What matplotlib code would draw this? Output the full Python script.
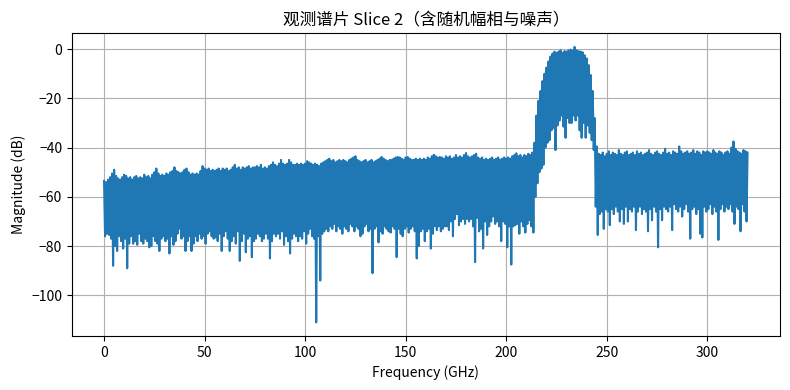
import matplotlib
matplotlib.use("Agg")
import matplotlib.pyplot as plt
import numpy as np

plt.rcParams["font.family"] = ["Noto Sans CJK SC", "DejaVu Sans"]
plt.rcParams["axes.unicode_minus"] = True

# 上包络（整数 GHz 处的峰值，dB）
upper = [
    -53.5, -54, -53, -52, -50.5, -49, -51.5, -52.5, -53, -52,
    -51, -51.5, -52.5, -52, -53, -52, -51.5, -52.5, -52, -52.5,
    -51, -52, -51.5, -52.5, -51, -50, -48.5, -50.5, -51.5, -51,
    -51.5, -50.5, -51, -50, -49.5, -48, -49.5, -50, -50.5, -50,
    -49, -48.5, -50, -51, -50.5, -51, -50.5, -51, -49.5, -47.5,
    -48.5, -49, -48.5, -49.5, -49, -49.5, -49, -48.5, -49.5, -48.5,
    -49, -48.5, -49.5, -49, -48, -47, -48.5, -48, -49, -48,
    -48.5, -48, -47.5, -48.5, -48, -48, -47.5, -48, -47, -48.5,
    -48, -48.5, -47.5, -47, -46, -47, -47.5, -46.5, -45, -46.5,
    -47, -46.5, -45, -46, -47, -47, -46.5, -47, -46.5, -47,
    -46.5, -45.5, -46, -46.5, -47, -46.5, -47, -47.5, -46.5, -46,
    -45.5, -45, -44.5, -45.5, -45, -46, -45.5, -45, -45.5, -45,
    -45.5, -46, -45, -44.5, -44, -43.5, -45, -45.5, -46, -45.5,
    -45, -46, -45.5, -45, -46, -45.5, -45, -44.5, -43.8, -44.5,
    -45, -45.5, -45, -45, -44.5, -44, -43.8, -44, -44.5, -45,
    -44, -43.8, -44.5, -45, -45, -44.5, -45, -44.5, -45, -44.5,
    -45, -44, -44.5, -43.5, -42.9, -43.5, -44, -43.8, -44, -44.5,
    -43.5, -44, -43.5, -44.5, -44, -43, -44, -43.5, -44, -43,
    -42.2, -43.5, -44, -43.5, -43, -42.5, -44, -44.5, -44, -45,
    -44.5, -45, -44.5, -44, -45, -44.5, -44, -45, -44.5, -44,
    -44.5, -44, -44.5, -43.5, -43, -42.3, -43.5, -43, -44, -43,
    -43.5, -42.5, -43, -42, -38, -27, -21, -17, -13, -10,
    -7.5, -5, -3, -1.8, -1, -1.5, -1, -0.5, -1.5, -0.8,
    -1, -0.5, -0.2, -0.6, 0.9, -0.5, -0.8, -1, -1.3, -2.5,
    -3.8, -6.5, -10.5, -17, -28, -39.5, -42.5, -43, -42, -43.5,
    -42.5, -41.5, -43, -42, -42.5, -43, -41, -42.5, -43, -42,
    -41.5, -43, -42.5, -42, -43, -41.5, -42.5, -42, -43, -42.5,
    -42, -41, -42.5, -43, -42, -41.5, -42.5, -43, -42, -40.5,
    -42.5, -42, -43, -41.5, -42, -42.5, -39.5, -41.5, -42.5, -42,
    -41.5, -42.5, -42, -41, -42.5, -41.5, -42, -43, -41.5, -42,
    -41.5, -42, -42.5, -41, -42, -42.5, -41.5, -42, -43, -42,
    -41.5, -42.5, -40, -37.5, -40.5, -41.5, -42, -42.5, -41, -41.5,
    -42,
]

# 下包络（半整数 GHz 处的谷值，dB）
lower = [
    -76, -75, -75.5, -77, -88, -80, -82, -76, -78, -81,
    -77, -89, -79, -76, -79, -78, -79.5, -75, -78, -79,
    -77, -78, -80.5, -80, -76, -78, -79, -82, -77, -76,
    -78, -77, -83, -76, -79.5, -78, -75, -73, -77, -76,
    -82, -78, -76, -82, -79, -76, -78, -75, -77, -76,
    -79, -75, -74, -76, -77, -76.5, -78, -75, -82, -76,
    -74, -77, -82, -78, -76, -79, -74, -86, -78, -75,
    -82.5, -77, -76, -84.5, -78, -77, -75, -76, -78, -77,
    -75, -77, -85, -78, -75, -76, -75, -77, -74, -79.5,
    -76, -78, -83, -77, -75, -76, -78, -76, -77, -74,
    -79, -75, -73, -76, -77, -111, -76, -94, -75, -74,
    -73, -74, -72, -73, -71, -74, -72, -73, -75, -72,
    -73, -74, -71, -72, -74, -72, -73, -76, -75, -72,
    -71, -74, -73, -91, -73, -72, -78.5, -74, -75, -72,
    -73, -74, -74.5, -72, -73, -84.5, -73, -75, -76, -73,
    -72, -74.5, -73, -72, -74, -85, -80, -74, -73, -78,
    -74, -73, -81, -75, -72, -73.5, -72, -74, -73, -72,
    -72, -73.5, -70, -76, -69, -67, -71.5, -70, -69, -71,
    -69, -70, -69, -72, -86.5, -68.5, -74, -73, -81, -70,
    -75.5, -72, -70, -68, -71, -70, -72, -78, -70, -71,
    -80.5, -72, -87.5, -72, -71.5, -71, -75, -70, -72, -74.5,
    -71, -69.5, -72, -74.5, -60, -54.5, -50, -48.5, -47, -40,
    -38, -37, -33, -32, -41, -31, -29, -27, -31.5, -36,
    -28, -30, -30, -27, -29, -27, -33, -36, -30, -36,
    -31, -34, -37, -41, -64, -75.5, -67, -66, -73, -65,
    -66, -71.5, -65, -67, -64, -66, -70, -65, -71, -64,
    -70, -65, -66, -64, -73.5, -66, -64, -67, -65, -66,
    -74, -65, -69.5, -64, -66, -80.5, -65, -69.5, -64, -65,
    -66, -64, -73.5, -63, -65, -66, -64, -68, -65, -63,
    -66, -77, -65, -64, -67, -65, -75, -76.5, -64, -66,
    -65, -63, -67, -64, -66, -77.5, -65, -63, -66, -64,
    -65, -63, -66, -71, -64, -65, -74, -63, -66, -70,
]

f_up = np.arange(len(upper), dtype=float)
f_lo = np.arange(len(lower), dtype=float) + 0.5
freq = np.concatenate([f_up, f_lo])
mag = np.concatenate([upper, lower])
order = np.argsort(freq)
freq, mag = freq[order], mag[order]

fig, ax = plt.subplots(figsize=(7.9, 3.9), dpi=100)
ax.plot(freq, mag, color="#1f77b4", linewidth=1.5)
ax.set_title("观测谱片 Slice 2（含随机幅相与噪声）", fontsize=12)
ax.set_xlabel("Frequency (GHz)", fontsize=10)
ax.set_ylabel("Magnitude (dB)", fontsize=10)
ax.grid(True)
ax.tick_params(labelsize=10)

fig.subplots_adjust(left=0.091, right=0.987, top=0.915, bottom=0.138)
plt.savefig("out.png", dpi=100)
